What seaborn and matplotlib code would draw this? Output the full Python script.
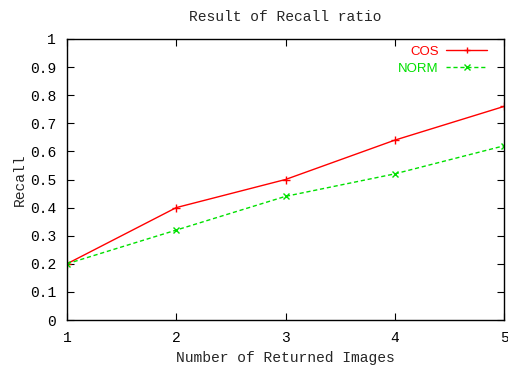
import matplotlib
matplotlib.use("Agg")
import matplotlib.pyplot as plt
from matplotlib.lines import Line2D
import seaborn as sns
import pandas as pd

returned = [1, 2, 3, 4, 5]
cos_recall = [0.2, 0.4, 0.5, 0.64, 0.76]
norm_recall = [0.2, 0.32, 0.44, 0.52, 0.62]
y_ticks = [0, 0.1, 0.2, 0.3, 0.4, 0.5, 0.6, 0.7, 0.8, 0.9, 1]
y_labels = ["0", "0.1", "0.2", "0.3", "0.4", "0.5", "0.6", "0.7", "0.8", "0.9", "1"]

sns.set_style("ticks")
plt.rcParams["font.family"] = ["Liberation Mono", "DejaVu Sans Mono"]

RED = "#ff0000"
GREEN = "#00e000"

cos_df = pd.DataFrame({"n": returned, "recall": cos_recall})
norm_df = pd.DataFrame({"n": returned, "recall": norm_recall})

fig = plt.figure(figsize=(5.08, 3.65), dpi=100)
ax = fig.add_axes([67 / 508, 1 - 320 / 365, (504 - 67) / 508, (320 - 39) / 365])

sns.lineplot(data=cos_df, x="n", y="recall", color=RED, lw=1.0,
             marker="+", markersize=6, markeredgecolor=RED,
             markeredgewidth=1.0, ax=ax)
sns.lineplot(data=norm_df, x="n", y="recall", color=GREEN, lw=1.0,
             linestyle=(0, (3, 2)), marker="x", markersize=5,
             markeredgecolor=GREEN, markeredgewidth=1.0, ax=ax)

ax.set_xlim(1, 5)
ax.set_ylim(0, 1)
ax.set_xticks(returned)
ax.set_xticklabels([str(v) for v in returned])
ax.set_yticks(y_ticks)
ax.set_yticklabels(y_labels)
ax.tick_params(direction="in", top=True, right=True, length=5, width=0.8,
               labelsize=10.5, colors="black", pad=8)
for s in ax.spines.values():
    s.set_linewidth(1.0)
    s.set_color("black")

ax.set_title("Result of Recall ratio", fontsize=10.5, pad=13)
ax.set_xlabel("Number of Returned Images", fontsize=10.5, labelpad=4)
ax.set_ylabel("Recall", fontsize=10.5, labelpad=2)

handles = [
    Line2D([], [], color=RED, lw=1.0, marker="+", markersize=5),
    Line2D([], [], color=GREEN, lw=1.0, ls=(0, (3, 2)), marker="x", markersize=4),
]
leg = ax.legend(handles, ["COS", "NORM"], loc="upper right", frameon=False,
                bbox_to_anchor=(0.971, 0.991),
                markerfirst=False, handlelength=3.1, handletextpad=0.6,
                labelspacing=0.35, borderaxespad=0.0, borderpad=0.3,
                prop={"family": "Liberation Sans", "size": 9.5})
for t, c in zip(leg.get_texts(), [RED, GREEN]):
    t.set_color(c)

fig.savefig("out.png", dpi=100)
